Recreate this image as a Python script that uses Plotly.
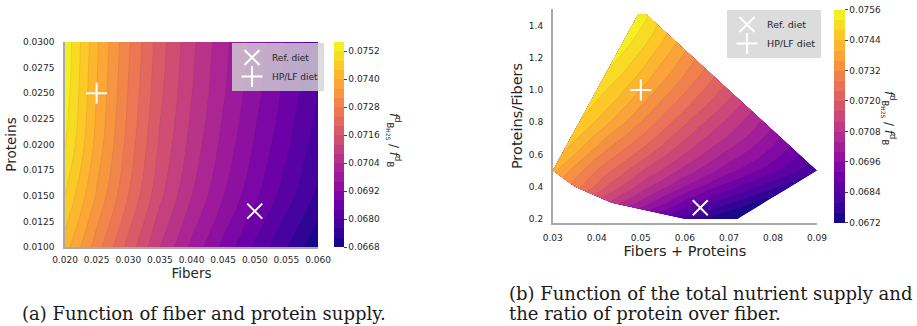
import plotly.graph_objects as go
from plotly.colors import sample_colorscale

# ---------------- panel (a) data: ratio on the fibre x protein grid ----------------
fibers = [0.020, 0.025, 0.030, 0.035, 0.040, 0.045, 0.050, 0.055, 0.060]
proteins = [0.010, 0.015, 0.020, 0.025, 0.030]
ratio_p010 = [0.07420, 0.07300, 0.07186, 0.07080, 0.06991, 0.06909, 0.06833, 0.06762, 0.06689]
ratio_p015 = [0.07480, 0.07355, 0.07240, 0.07130, 0.07041, 0.06962, 0.06889, 0.06819, 0.06749]
ratio_p020 = [0.07525, 0.07386, 0.07264, 0.07154, 0.07066, 0.06988, 0.06916, 0.06848, 0.06779]
ratio_p025 = [0.07542, 0.07399, 0.07278, 0.07169, 0.07082, 0.07005, 0.06934, 0.06867, 0.06799]
ratio_p030 = [0.07550, 0.07407, 0.07287, 0.07178, 0.07091, 0.07014, 0.06944, 0.06877, 0.06809]
ratio_grid = [ratio_p010, ratio_p015, ratio_p020, ratio_p025, ratio_p030]

# ---------------- panel (b) data: ratio across the sampled (total, P/F) region ----------------
# one row per protein/fibre value, 7 samples spread from the left to the right edge of the region
prop_rows = [0.2, 0.3, 0.4, 0.5, 0.6, 0.7, 0.8, 0.9, 1.0, 1.1, 1.2, 1.3, 1.4, 1.47]
span_nodes = [0, 1, 2, 3, 4, 5, 6]
rb_020 = [0.06810, 0.06790, 0.06770, 0.06750, 0.06730, 0.06720, 0.06710]
rb_030 = [0.07110, 0.07040, 0.06975, 0.06900, 0.06840, 0.06790, 0.06740]
rb_040 = [0.07300, 0.07190, 0.07090, 0.07005, 0.06920, 0.06850, 0.06780]
rb_050 = [0.07410, 0.07280, 0.07165, 0.07066, 0.06976, 0.06893, 0.06809]
rb_060 = [0.07440, 0.07320, 0.07225, 0.07128, 0.07044, 0.06968, 0.06883]
rb_070 = [0.07460, 0.07360, 0.07275, 0.07185, 0.07107, 0.07037, 0.06957]
rb_080 = [0.07480, 0.07400, 0.07320, 0.07242, 0.07165, 0.07100, 0.07031]
rb_090 = [0.07490, 0.07430, 0.07360, 0.07294, 0.07228, 0.07166, 0.07105]
rb_100 = [0.07500, 0.07455, 0.07399, 0.07343, 0.07287, 0.07233, 0.07180]
rb_110 = [0.07515, 0.07478, 0.07435, 0.07388, 0.07345, 0.07299, 0.07254]
rb_120 = [0.07530, 0.07500, 0.07467, 0.07431, 0.07396, 0.07362, 0.07328]
rb_130 = [0.07540, 0.07520, 0.07498, 0.07475, 0.07452, 0.07427, 0.07402]
rb_140 = [0.07545, 0.07536, 0.07525, 0.07514, 0.07502, 0.07489, 0.07476]
rb_147 = [0.07549, 0.07546, 0.07543, 0.07540, 0.07536, 0.07532, 0.07528]
ratio_b = [rb_020, rb_030, rb_040, rb_050, rb_060, rb_070, rb_080, rb_090,
           rb_100, rb_110, rb_120, rb_130, rb_140, rb_147]

diet_names = ["Ref. diet", "HP/LF diet"]
diet_fiber = [0.050, 0.025]
diet_protein = [0.0135, 0.025]
diet_symbols = ["x-thin", "cross-thin"]

left_cb_ticks = [0.0668, 0.0680, 0.0692, 0.0704, 0.0716, 0.0728, 0.0740, 0.0752]
right_cb_ticks = [0.0672, 0.0684, 0.0696, 0.0708, 0.0720, 0.0732, 0.0744, 0.0756]
left_xticks = [0.020, 0.025, 0.030, 0.035, 0.040, 0.045, 0.050, 0.055, 0.060]
left_yticks = [0.0100, 0.0125, 0.0150, 0.0175, 0.0200, 0.0225, 0.0250, 0.0275, 0.0300]
right_xticks = [0.03, 0.04, 0.05, 0.06, 0.07, 0.08, 0.09]
right_yticks = [0.2, 0.4, 0.6, 0.8, 1.0, 1.2, 1.4]
LEVEL_STEP = 0.0004

# ---------------- geometry of panel (b): hull of the sampled fibre/protein box ----------------
F_lo, F_hi, P_lo, P_hi = fibers[0], fibers[-1], proteins[0], proteins[-1]
s1, r1 = F_lo + P_hi, P_hi / F_lo
s2, r2 = F_hi + P_hi, P_hi / F_hi

def total_bounds(r):
    lo = max(F_lo * (1 + r), P_lo * (1 + r) / r)
    chord = s1 + (r - r1) * (s2 - s1) / (r2 - r1)
    hi = min(F_hi * (1 + r), chord)
    return lo, hi

n_span = span_nodes[-1]
total_xy = []
prop_xy = []
for r in prop_rows:
    lo, hi = total_bounds(r)
    total_xy.append([lo + (hi - lo) * k / n_span for k in span_nodes])
    prop_xy.append([r for _ in span_nodes])

diet_sum = [f + p for f, p in zip(diet_fiber, diet_protein)]
diet_prop = [p / f for f, p in zip(diet_fiber, diet_protein)]

# ---------------- colours (matplotlib-like discrete plasma bands) ----------------
def band_scales(cb_lo, cb_hi):
    n = round((cb_hi - cb_lo) / LEVEL_STEP)
    cols = sample_colorscale("Plasma", [(k + 0.5) / n for k in range(n)])
    contour_scale = [[k / (n - 1), c] for k, c in enumerate(cols)]
    bar_scale = []
    for k, c in enumerate(cols):
        bar_scale.append([k / n, c])
        bar_scale.append([(k + 1) / n, c])
    return contour_scale, bar_scale

left_cs, left_bar = band_scales(left_cb_ticks[0], 0.0756)
right_cs, right_bar = band_scales(right_cb_ticks[0], right_cb_ticks[-1])

W, H = 917, 326
def px(x):
    return x / W
def py(y):
    return 1 - y / H

TICKFONT = dict(family="DejaVu Sans", size=9, color="#262626")
SPINE = "#a8a8a8"
LINE = dict(width=0.5, color="rgba(40,40,40,0.18)", smoothing=1)
title_txt = "<i>f</i><sup>d</sup><sub>B<sub>H2S</sub></sub> / <i>f</i><sup>d</sup><sub>B</sub>"

def colorbar(x0, y_bottom, length, thick, ticks):
    return dict(thickness=thick, len=length, lenmode="pixels",
                x=px(x0), xanchor="left", y=py(y_bottom), yanchor="bottom",
                xpad=0, ypad=0, outlinewidth=0,
                ticks="outside", ticklen=3, tickcolor="#444",
                tickvals=ticks, ticktext=[f"{v:.4f}" for v in ticks],
                tickfont=TICKFONT)

fig = go.Figure()

# ---------- panel (a) ----------
fig.add_trace(go.Contour(
    x=fibers, y=proteins, z=ratio_grid,
    colorscale=left_cs, autocontour=False, showscale=False,
    contours=dict(start=left_cb_ticks[0] + LEVEL_STEP, end=0.0756 - LEVEL_STEP + 1e-6,
                  size=LEVEL_STEP, coloring="fill"),
    line=LINE, hoverinfo="skip", xaxis="x", yaxis="y",
))
fig.add_trace(go.Scatter(
    x=[None], y=[None], mode="markers", showlegend=False, hoverinfo="skip",
    marker=dict(color=[left_cb_ticks[0]], cmin=left_cb_ticks[0], cmax=0.0756,
                colorscale=left_bar, showscale=True,
                colorbar=colorbar(334, 247, 205, 10, left_cb_ticks)),
    xaxis="x", yaxis="y",
))
for name, f, p, s in zip(diet_names, diet_fiber, diet_protein, diet_symbols):
    fig.add_trace(go.Scatter(
        x=[f], y=[p], mode="markers", name=name, legend="legend",
        marker=dict(symbol=s, size=15, color="white", line=dict(color="white", width=2)),
        xaxis="x", yaxis="y",
    ))

# ---------- panel (b) ----------
hidden_axis = dict(showgrid=False, showline=False, startline=False, endline=False,
                   showticklabels="none", minorgridcount=0, smoothing=0,
                   color="rgba(0,0,0,0)")
fig.add_trace(go.Carpet(
    a=span_nodes, b=prop_rows, x=total_xy, y=prop_xy, carpet="c1",
    aaxis=hidden_axis, baxis=hidden_axis, xaxis="x2", yaxis="y2",
))
fig.add_trace(go.Contourcarpet(
    a=span_nodes, b=prop_rows, z=ratio_b, carpet="c1",
    colorscale=right_cs, autocontour=False, showscale=False,
    contours=dict(start=right_cb_ticks[0] + LEVEL_STEP, end=right_cb_ticks[-1] - LEVEL_STEP + 1e-6,
                  size=LEVEL_STEP, coloring="fill"),
    line=LINE, xaxis="x2", yaxis="y2",
))
fig.add_trace(go.Scatter(
    x=[None], y=[None], mode="markers", showlegend=False, hoverinfo="skip",
    marker=dict(color=[right_cb_ticks[0]], cmin=right_cb_ticks[0], cmax=right_cb_ticks[-1],
                colorscale=right_bar, showscale=True,
                colorbar=colorbar(834, 222.7, 213.4, 11, right_cb_ticks)),
    xaxis="x2", yaxis="y2",
))
for name, s_, r_, s in zip(diet_names, diet_sum, diet_prop, diet_symbols):
    fig.add_trace(go.Scatter(
        x=[s_], y=[r_], mode="markers", name=name, legend="legend2",
        marker=dict(symbol=s, size=15, color="white", line=dict(color="white", width=2)),
        xaxis="x2", yaxis="y2",
    ))

axis_common = dict(showgrid=False, zeroline=False, showline=True, linecolor=SPINE,
                   linewidth=1.5, ticks="", tickfont=TICKFONT, automargin=False)

fig.update_layout(
    width=W, height=H, margin=dict(l=0, r=0, t=0, b=0, autoexpand=False),
    paper_bgcolor="white", plot_bgcolor="white",
    font=dict(family="DejaVu Sans", color="#262626"),
    xaxis=dict(domain=[px(65), px(318)], range=[0.02, 0.06], tickvals=left_xticks,
               ticktext=[f"{v:.3f}" for v in left_xticks], anchor="y",
               title=dict(text="Fibers", font=dict(size=13.5), standoff=4),
               ticklabelstandoff=3, **axis_common),
    yaxis=dict(domain=[py(247), py(42)], range=[0.01, 0.03], tickvals=left_yticks,
               ticktext=[f"{v:.4f}" for v in left_yticks], anchor="x",
               title=dict(text="Proteins", font=dict(size=13.5), standoff=3),
               ticklabelstandoff=7, **axis_common),
    xaxis2=dict(domain=[px(552.7), px(817)], range=[0.03, 0.09], tickvals=right_xticks,
                ticktext=[f"{v:.2f}" for v in right_xticks], anchor="y2",
                title=dict(text="Fibers + Proteins", font=dict(size=14.5), standoff=4),
                ticklabelstandoff=6, **axis_common),
    yaxis2=dict(domain=[py(222.7), py(9.3)], range=[0.177, 1.5], tickvals=right_yticks,
                ticktext=[f"{v:.1f}" for v in right_yticks], anchor="x2",
                title=dict(text="Proteins/Fibers", font=dict(size=14.5), standoff=3),
                ticklabelstandoff=6, **axis_common),
    legend=dict(x=px(232), y=py(43), xanchor="left", yanchor="top",
                bgcolor="rgba(211,211,211,0.8)", borderwidth=0, tracegroupgap=0,
                font=dict(size=9, color="#262626"), itemwidth=30),
    legend2=dict(x=px(727), y=py(10), xanchor="left", yanchor="top",
                 bgcolor="rgba(211,211,211,0.8)", borderwidth=0, tracegroupgap=0,
                 font=dict(size=9.5, color="#262626"), itemwidth=30),
    showlegend=True,
)

# colorbar titles (rotated, reading downward)
fig.add_annotation(text=title_txt, xref="paper", yref="paper", x=px(394), y=py(140),
                   showarrow=False, textangle=90, font=dict(size=12, color="#262626"))
fig.add_annotation(text=title_txt, xref="paper", yref="paper", x=px(900), y=py(118),
                   showarrow=False, textangle=90, font=dict(size=12, color="#262626"))

# captions
CAP = dict(family="DejaVu Serif", size=18, color="#1a1a1a")
fig.add_annotation(text="(a) Function of fiber and protein supply.", xref="paper", yref="paper",
                   x=px(20), y=py(313), xanchor="left", yanchor="middle", showarrow=False, font=CAP)
fig.add_annotation(text="(b) Function of the total nutrient supply and", xref="paper", yref="paper",
                   x=px(507), y=py(293), xanchor="left", yanchor="middle", showarrow=False, font=CAP)
fig.add_annotation(text="the ratio of protein over fiber.", xref="paper", yref="paper",
                   x=px(507), y=py(313), xanchor="left", yanchor="middle", showarrow=False, font=CAP)

fig.write_html("out.html")
